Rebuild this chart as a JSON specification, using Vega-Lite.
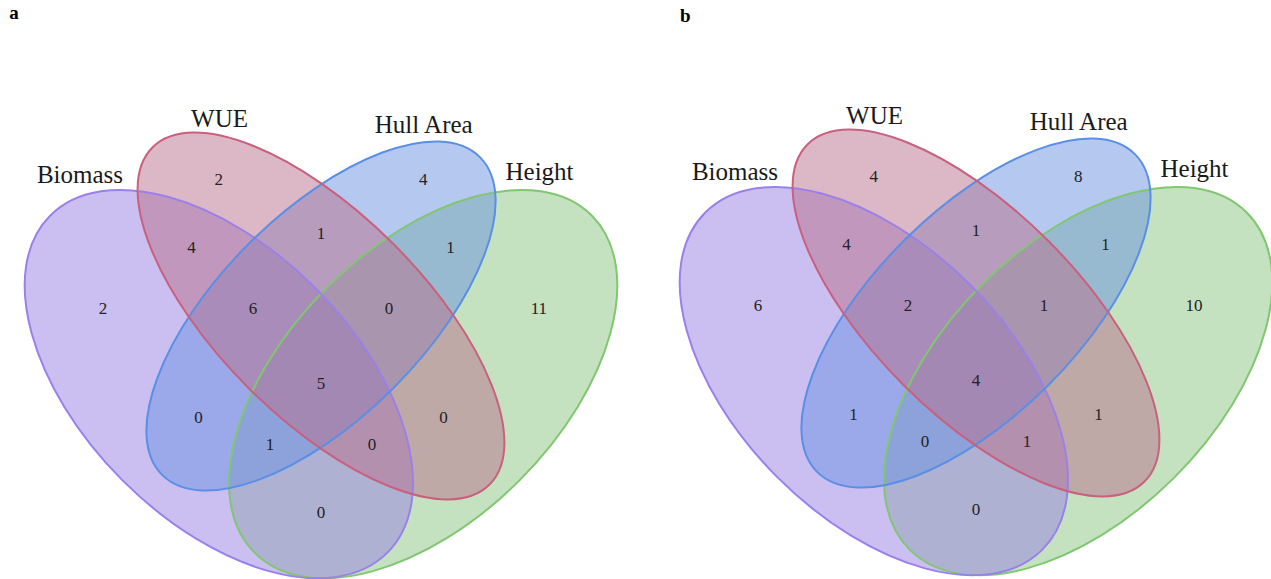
{
  "$schema": "https://vega.github.io/schema/vega-lite/v6.json",
  "padding": 0,
  "spacing": 35,
  "bounds": "flush",
  "background": "white",
  "config": {"view": {"stroke": null}},
  "datasets": {
    "ellipses": [
      {"set": "Height", "u": 0.65, "v": 0.47},
      {"set": "Biomass", "u": 0.35, "v": 0.47},
      {"set": "Hull Area", "u": 0.5, "v": 0.57},
      {"set": "WUE", "u": 0.5, "v": 0.57}
    ],
    "setlabels": [
      {"set": "Biomass", "u": 0.1461, "v": 0.7653},
      {"set": "WUE", "u": 0.351, "v": 0.848},
      {"set": "Hull Area", "u": 0.6508, "v": 0.8383},
      {"set": "Height", "u": 0.8209, "v": 0.7697}
    ],
    "regions": [
      {"panel": "a", "n": 2, "u": 0.18, "v": 0.58},
      {"panel": "a", "n": 2, "u": 0.35, "v": 0.77},
      {"panel": "a", "n": 4, "u": 0.65, "v": 0.77},
      {"panel": "a", "n": 11, "u": 0.82, "v": 0.58},
      {"panel": "a", "n": 4, "u": 0.31, "v": 0.67},
      {"panel": "a", "n": 1, "u": 0.5, "v": 0.69},
      {"panel": "a", "n": 1, "u": 0.69, "v": 0.67},
      {"panel": "a", "n": 6, "u": 0.4, "v": 0.58},
      {"panel": "a", "n": 0, "u": 0.6, "v": 0.58},
      {"panel": "a", "n": 0, "u": 0.32, "v": 0.42},
      {"panel": "a", "n": 5, "u": 0.5, "v": 0.47},
      {"panel": "a", "n": 0, "u": 0.68, "v": 0.42},
      {"panel": "a", "n": 1, "u": 0.425, "v": 0.38},
      {"panel": "a", "n": 0, "u": 0.575, "v": 0.38},
      {"panel": "a", "n": 0, "u": 0.5, "v": 0.28},
      {"panel": "b", "n": 6, "u": 0.18, "v": 0.58},
      {"panel": "b", "n": 4, "u": 0.35, "v": 0.77},
      {"panel": "b", "n": 8, "u": 0.65, "v": 0.77},
      {"panel": "b", "n": 10, "u": 0.82, "v": 0.58},
      {"panel": "b", "n": 4, "u": 0.31, "v": 0.67},
      {"panel": "b", "n": 1, "u": 0.5, "v": 0.69},
      {"panel": "b", "n": 1, "u": 0.69, "v": 0.67},
      {"panel": "b", "n": 2, "u": 0.4, "v": 0.58},
      {"panel": "b", "n": 1, "u": 0.6, "v": 0.58},
      {"panel": "b", "n": 1, "u": 0.32, "v": 0.42},
      {"panel": "b", "n": 4, "u": 0.5, "v": 0.47},
      {"panel": "b", "n": 1, "u": 0.68, "v": 0.42},
      {"panel": "b", "n": 0, "u": 0.425, "v": 0.38},
      {"panel": "b", "n": 1, "u": 0.575, "v": 0.38},
      {"panel": "b", "n": 0, "u": 0.5, "v": 0.28}
    ],
    "panels": [
      {"panel": "a", "u": 0.0423, "v": 1.0057},
      {"panel": "b", "u": 0.0653, "v": 0.998}
    ]
  },
  "hconcat": [
    {
      "width": 620,
      "height": 579,
      "encoding": {
        "x": {"field": "u", "type": "quantitative", "scale": {"domain": [0.02863, 0.93906], "nice": false, "zero": false}, "axis": null},
        "y": {"field": "v", "type": "quantitative", "scale": {"domain": [0.1838, 1.03402], "nice": false, "zero": false}, "axis": null}
      },
      "layer": [
        {
          "data": {"name": "ellipses"},
          "mark": {"type": "point", "filled": true, "size": 4, "opacity": 1, "fillOpacity": 0.5, "strokeWidth": 0, "clip": true},
          "encoding": {
            "fill": {"field": "set", "type": "nominal", "legend": null, "scale": {"domain": ["Biomass", "WUE", "Hull Area", "Height"], "range": ["#977FE3", "#B96F8B", "#6B91E1", "#89C581"]}},
            "shape": {"field": "set", "type": "nominal", "legend": null, "scale": {"domain": ["Biomass", "WUE", "Hull Area", "Height"], "range": [
              "M168.54,168.54C115.35,221.73,-3.23,189.39,-96.31,96.31C-189.39,3.23,-221.73,-115.35,-168.54,-168.54C-115.35,-221.73,3.23,-189.39,96.31,-96.31C189.39,-3.23,221.73,115.35,168.54,168.54Z",
              "M168.54,168.54C128.65,208.43,20.85,165.31,-72.23,72.23C-165.31,-20.85,-208.43,-128.65,-168.54,-168.54C-128.65,-208.43,-20.85,-165.31,72.23,-72.23C165.31,20.85,208.43,128.65,168.54,168.54Z",
              "M-158.91,158.91C-119.02,198.8,-15.53,159.99,72.23,72.23C159.99,-15.53,198.8,-119.02,158.91,-158.91C119.02,-198.8,15.53,-159.99,-72.23,-72.23C-159.99,15.53,-198.8,119.02,-158.91,158.91Z",
              "M-168.54,168.54C-115.35,221.73,3.23,189.39,96.31,96.31C189.39,3.23,221.73,-115.35,168.54,-168.54C115.35,-221.73,-3.23,-189.39,-96.31,-96.31C-189.39,-3.23,-221.73,115.35,-168.54,168.54Z"
            ]}}
          }
        },
        {
          "data": {"name": "ellipses"},
          "mark": {"type": "point", "filled": false, "size": 4, "opacity": 1, "strokeWidth": 2, "clip": true},
          "encoding": {
            "stroke": {"field": "set", "type": "nominal", "legend": null, "scale": {"domain": ["Biomass", "WUE", "Hull Area", "Height"], "range": ["#9B80EA", "#C9607D", "#5A8FE6", "#80C770"]}},
            "shape": {"field": "set", "type": "nominal", "legend": null, "scale": {"domain": ["Biomass", "WUE", "Hull Area", "Height"], "range": [
              "M168.54,168.54C115.35,221.73,-3.23,189.39,-96.31,96.31C-189.39,3.23,-221.73,-115.35,-168.54,-168.54C-115.35,-221.73,3.23,-189.39,96.31,-96.31C189.39,-3.23,221.73,115.35,168.54,168.54Z",
              "M168.54,168.54C128.65,208.43,20.85,165.31,-72.23,72.23C-165.31,-20.85,-208.43,-128.65,-168.54,-168.54C-128.65,-208.43,-20.85,-165.31,72.23,-72.23C165.31,20.85,208.43,128.65,168.54,168.54Z",
              "M-158.91,158.91C-119.02,198.8,-15.53,159.99,72.23,72.23C159.99,-15.53,198.8,-119.02,158.91,-158.91C119.02,-198.8,15.53,-159.99,-72.23,-72.23C-159.99,15.53,-198.8,119.02,-158.91,158.91Z",
              "M-168.54,168.54C-115.35,221.73,3.23,189.39,96.31,96.31C189.39,3.23,221.73,-115.35,168.54,-168.54C115.35,-221.73,-3.23,-189.39,-96.31,-96.31C-189.39,-3.23,-221.73,115.35,-168.54,168.54Z"
            ]}}
          }
        },
        {
          "data": {"name": "setlabels"},
          "mark": {"type": "text", "font": "Liberation Serif", "fontSize": 25, "align": "center", "baseline": "alphabetic", "color": "#1a1a1a"},
          "encoding": {"text": {"field": "set", "type": "nominal"}}
        },
        {
          "data": {"name": "regions"},
          "transform": [{"filter": "datum.panel === 'a'"}],
          "mark": {"type": "text", "font": "Liberation Serif", "fontSize": 17, "align": "center", "baseline": "middle", "color": "#222222"},
          "encoding": {"text": {"field": "n", "type": "quantitative"}}
        },
        {
          "data": {"name": "panels"},
          "transform": [{"filter": "datum.panel === 'a'"}],
          "mark": {"type": "text", "font": "Liberation Serif", "fontSize": 19, "fontWeight": "bold", "align": "left", "baseline": "alphabetic", "color": "#000000"},
          "encoding": {"text": {"field": "panel", "type": "nominal"}}
        }
      ]
    },
    {
      "width": 616,
      "height": 579,
      "encoding": {
        "x": {"field": "u", "type": "quantitative", "scale": {"domain": [0.02863, 0.93319], "nice": false, "zero": false}, "axis": null},
        "y": {"field": "v", "type": "quantitative", "scale": {"domain": [0.1794, 1.02962], "nice": false, "zero": false}, "axis": null}
      },
      "layer": [
        {
          "data": {"name": "ellipses"},
          "mark": {"type": "point", "filled": true, "size": 4, "opacity": 1, "fillOpacity": 0.5, "strokeWidth": 0, "clip": true},
          "encoding": {
            "fill": {"field": "set", "type": "nominal", "legend": null, "scale": {"domain": ["Biomass", "WUE", "Hull Area", "Height"], "range": ["#977FE3", "#B96F8B", "#6B91E1", "#89C581"]}},
            "shape": {"field": "set", "type": "nominal", "legend": null, "scale": {"domain": ["Biomass", "WUE", "Hull Area", "Height"], "range": [
              "M168.54,168.54C115.35,221.73,-3.23,189.39,-96.31,96.31C-189.39,3.23,-221.73,-115.35,-168.54,-168.54C-115.35,-221.73,3.23,-189.39,96.31,-96.31C189.39,-3.23,221.73,115.35,168.54,168.54Z",
              "M168.54,168.54C128.65,208.43,20.85,165.31,-72.23,72.23C-165.31,-20.85,-208.43,-128.65,-168.54,-168.54C-128.65,-208.43,-20.85,-165.31,72.23,-72.23C165.31,20.85,208.43,128.65,168.54,168.54Z",
              "M-158.91,158.91C-119.02,198.8,-15.53,159.99,72.23,72.23C159.99,-15.53,198.8,-119.02,158.91,-158.91C119.02,-198.8,15.53,-159.99,-72.23,-72.23C-159.99,15.53,-198.8,119.02,-158.91,158.91Z",
              "M-168.54,168.54C-115.35,221.73,3.23,189.39,96.31,96.31C189.39,3.23,221.73,-115.35,168.54,-168.54C115.35,-221.73,-3.23,-189.39,-96.31,-96.31C-189.39,-3.23,-221.73,115.35,-168.54,168.54Z"
            ]}}
          }
        },
        {
          "data": {"name": "ellipses"},
          "mark": {"type": "point", "filled": false, "size": 4, "opacity": 1, "strokeWidth": 2, "clip": true},
          "encoding": {
            "stroke": {"field": "set", "type": "nominal", "legend": null, "scale": {"domain": ["Biomass", "WUE", "Hull Area", "Height"], "range": ["#9B80EA", "#C9607D", "#5A8FE6", "#80C770"]}},
            "shape": {"field": "set", "type": "nominal", "legend": null, "scale": {"domain": ["Biomass", "WUE", "Hull Area", "Height"], "range": [
              "M168.54,168.54C115.35,221.73,-3.23,189.39,-96.31,96.31C-189.39,3.23,-221.73,-115.35,-168.54,-168.54C-115.35,-221.73,3.23,-189.39,96.31,-96.31C189.39,-3.23,221.73,115.35,168.54,168.54Z",
              "M168.54,168.54C128.65,208.43,20.85,165.31,-72.23,72.23C-165.31,-20.85,-208.43,-128.65,-168.54,-168.54C-128.65,-208.43,-20.85,-165.31,72.23,-72.23C165.31,20.85,208.43,128.65,168.54,168.54Z",
              "M-158.91,158.91C-119.02,198.8,-15.53,159.99,72.23,72.23C159.99,-15.53,198.8,-119.02,158.91,-158.91C119.02,-198.8,15.53,-159.99,-72.23,-72.23C-159.99,15.53,-198.8,119.02,-158.91,158.91Z",
              "M-168.54,168.54C-115.35,221.73,3.23,189.39,96.31,96.31C189.39,3.23,221.73,-115.35,168.54,-168.54C115.35,-221.73,-3.23,-189.39,-96.31,-96.31C-189.39,-3.23,-221.73,115.35,-168.54,168.54Z"
            ]}}
          }
        },
        {
          "data": {"name": "setlabels"},
          "mark": {"type": "text", "font": "Liberation Serif", "fontSize": 25, "align": "center", "baseline": "alphabetic", "color": "#1a1a1a"},
          "encoding": {"text": {"field": "set", "type": "nominal"}}
        },
        {
          "data": {"name": "regions"},
          "transform": [{"filter": "datum.panel === 'b'"}],
          "mark": {"type": "text", "font": "Liberation Serif", "fontSize": 17, "align": "center", "baseline": "middle", "color": "#222222"},
          "encoding": {"text": {"field": "n", "type": "quantitative"}}
        },
        {
          "data": {"name": "panels"},
          "transform": [{"filter": "datum.panel === 'b'"}],
          "mark": {"type": "text", "font": "Liberation Serif", "fontSize": 19, "fontWeight": "bold", "align": "left", "baseline": "alphabetic", "color": "#000000"},
          "encoding": {"text": {"field": "panel", "type": "nominal"}}
        }
      ]
    }
  ]
}
